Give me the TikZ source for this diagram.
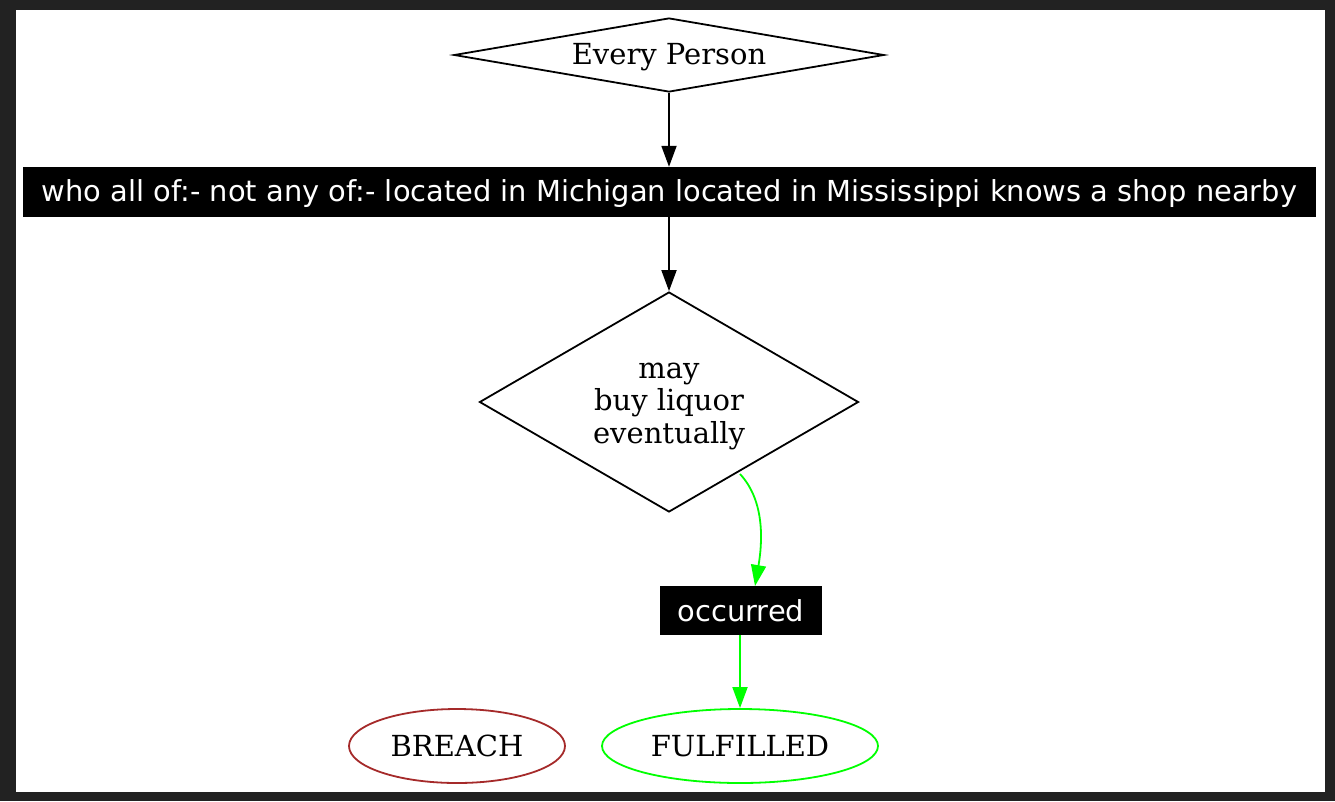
\documentclass[tikz,border=0pt]{standalone}
\usepackage{fontspec}
\setmainfont{DejaVu Serif}
\newfontfamily\boxfont{DejaVu Sans}
\usetikzlibrary{shapes.geometric,arrows.meta}
\definecolor{frame}{HTML}{222222}
\definecolor{brk}{HTML}{A52A2A}
\definecolor{grn}{HTML}{00FF00}
\tikzset{
  serif/.style={font=\fontsize{29}{32.5}\selectfont, align=center},
  dia/.style={draw=black, line width=1.8pt, diamond, inner sep=0pt},
  blk/.style={fill=black, text=white, inner sep=0pt, font=\boxfont\fontsize{28.9}{33}\selectfont},
  term/.style={ellipse, line width=1.8pt, inner sep=0pt, serif},
  arr/.style={line width=1.8pt, -{Triangle[length=21pt,width=15pt]}},
}
\begin{document}
\begin{tikzpicture}[x=1pt,y=-1pt]
\useasboundingbox (0,0) rectangle (1335,801);
\fill[frame] (0,0) rectangle (1335,801);
\fill[white] (16,10) rectangle (1325,792);
% top diamond
\node[dia, minimum width=430pt, minimum height=74pt] (every) at (669,55) {};
\node[serif] (everyt) at (669,57.5) {Every Person};
% who box
\node[blk, minimum width=1293pt, minimum height=50pt] (who) at (669,192) {};
\node[blk, fill=none] (whot) at (669.5,193.5) {who all of:- not any of:- located in Michigan located in Mississippi knows a shop nearby};
% big diamond
\node[dia, minimum width=379pt, minimum height=220pt] (may) at (669,402) {};
\node[serif] (mayt) at (669,406) {may\\buy liquor\\eventually};
% occurred
\node[blk, minimum width=162pt, minimum height=49pt] (occ) at (741,610.5) {occurred};
% terminals
\node[term, draw=brk, minimum width=216pt, minimum height=74pt] (breach) at (457,746) {BREACH};
\node[term, draw=grn, minimum width=276pt, minimum height=74pt] (ful) at (740,746) {FULFILLED};
% edges
\draw[arr] (every.south) -- (who.north);
\draw[arr] (who.south) -- (may.north);
\coordinate (mayout) at (740,474);
\draw[arr, grn] (mayout) .. controls (766,502) and (762,545) .. (755,586);
\draw[arr, grn] (occ.south -| ful.north) -- (ful.north);
\end{tikzpicture}
\end{document}
